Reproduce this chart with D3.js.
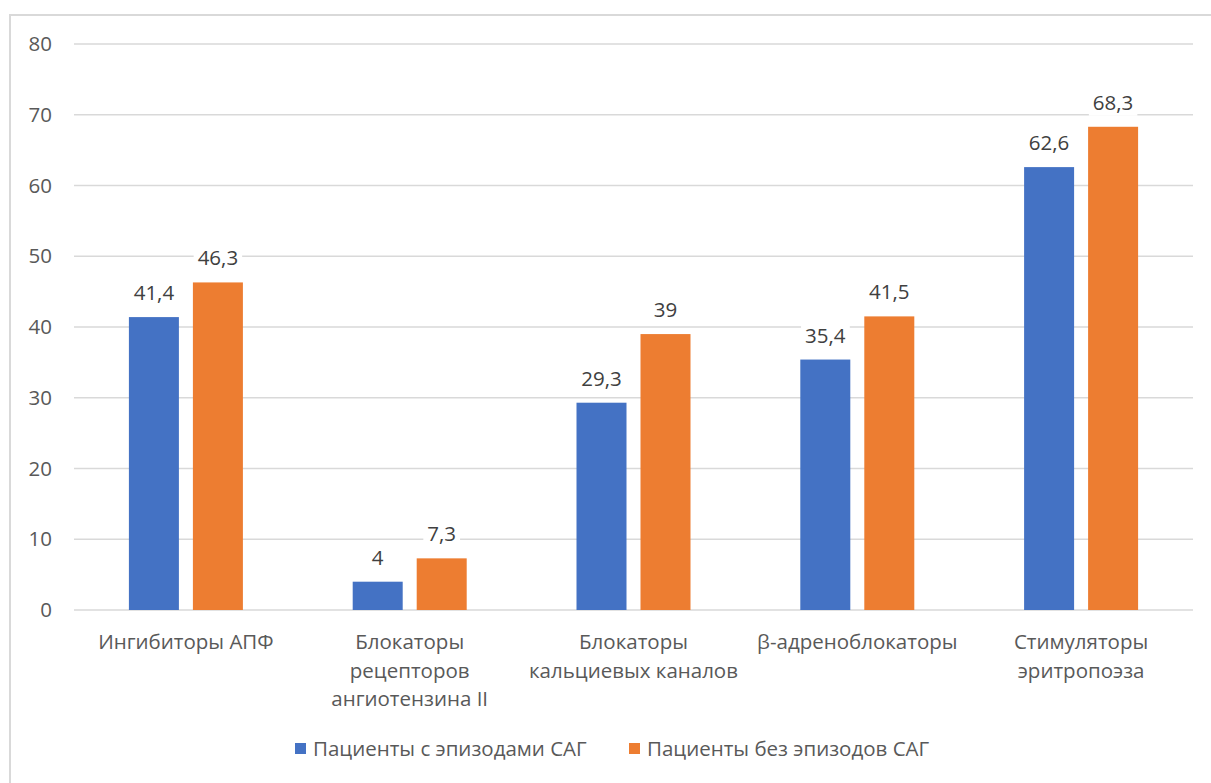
<!DOCTYPE html>
<html>
<head>
<meta charset="utf-8">
<script src="https://cdn.jsdelivr.net/npm/d3@7"></script>
<style>
  html, body { margin: 0; padding: 0; background: #fff; }
  svg { display: block; }
  text { font-family: "Open Sans", "Noto Sans", sans-serif; }
</style>
</head>
<body>
<svg id="chart" width="1211" height="783"></svg>
<script>
// Drug classes (category axis), each label split into display lines
const categories = [
  ["Ингибиторы АПФ"],
  ["Блокаторы", "рецепторов", "ангиотензина II"],
  ["Блокаторы", "кальциевых каналов"],
  ["β-адреноблокаторы"],
  ["Стимуляторы", "эритропоэза"]
];
const categoryKeys = ["АПФ", "БРА", "БКК", "ББ", "ЭПО"];

const seriesNames = ["Пациенты с эпизодами САГ", "Пациенты без эпизодов САГ"];
const withSAG = [41.4, 4, 29.3, 35.4, 62.6];
const withoutSAG = [46.3, 7.3, 39, 41.5, 68.3];
const valueLabels = [
  ["41,4", "4", "29,3", "35,4", "62,6"],
  ["46,3", "7,3", "39", "41,5", "68,3"]
];
const yTicks = [0, 10, 20, 30, 40, 50, 60, 70, 80];

const colors = ["#4472C4", "#ED7D31"];
const svg = d3.select("#chart");

// Outer chart frame
svg.append("rect")
  .attr("x", 10).attr("y", 15)
  .attr("width", 1260).attr("height", 800)
  .attr("fill", "#fff")
  .attr("stroke", "#D9D9D9").attr("stroke-width", 2);

const plot = { left: 74, right: 1193, top: 44, bottom: 610 };

const y = d3.scaleLinear().domain([0, 80]).range([plot.bottom, plot.top]);
const x0 = d3.scaleBand().domain(categoryKeys).range([plot.left, plot.right]);
const x1 = d3.scaleBand().domain([0, 1]).range([-57, 57]).paddingInner(0.21875);

// Horizontal gridlines
svg.append("g").selectAll("line")
  .data(yTicks)
  .join("line")
  .attr("x1", plot.left).attr("x2", plot.right)
  .attr("y1", d => y(d)).attr("y2", d => y(d))
  .attr("stroke", "#D9D9D9").attr("stroke-width", 1.5);

// Y axis tick labels
const yAxis = svg.append("g")
  .attr("transform", `translate(${plot.left - 22},0)`)
  .call(d3.axisLeft(y).tickValues(yTicks).tickSize(0).tickPadding(0));
yAxis.select(".domain").remove();
yAxis.selectAll("text")
  .attr("font-size", 20.5)
  .attr("fill", "#595959")
  .style("font-family", "'Open Sans', sans-serif");

// Bars
const values = [withSAG, withoutSAG];
const groups = svg.append("g").selectAll("g")
  .data(categoryKeys)
  .join("g")
  .attr("transform", d => `translate(${x0(d) + x0.bandwidth() / 2},0)`);

groups.selectAll("rect")
  .data((d, i) => values.map((s, k) => ({ k, v: s[i], label: valueLabels[k][i] })))
  .join("rect")
  .attr("x", d => x1(d.k))
  .attr("width", x1.bandwidth())
  .attr("y", d => y(d.v))
  .attr("height", d => y(0) - y(d.v))
  .attr("fill", d => colors[d.k]);

// Value labels with a white backing box
const lbl = groups.selectAll("g.lbl")
  .data((d, i) => values.map((s, k) => ({ k, v: s[i], label: valueLabels[k][i] })))
  .join("g")
  .attr("class", "lbl");
lbl.append("text")
  .attr("x", d => x1(d.k) + x1.bandwidth() / 2)
  .attr("y", d => y(d.v) - 17)
  .attr("text-anchor", "middle")
  .attr("font-size", 20.5)
  .attr("fill", "#404040")
  .text(d => d.label);
lbl.each(function () {
  const g = d3.select(this);
  const bb = g.select("text").node().getBBox();
  g.insert("rect", "text")
    .attr("x", bb.x - 4).attr("y", bb.y + 3)
    .attr("width", bb.width + 8).attr("height", bb.height - 3)
    .attr("fill", "#fff");
});

// Category labels
const xAxis = svg.append("g");
xAxis.selectAll("text")
  .data(categoryKeys)
  .join("text")
  .attr("x", d => x0(d) + x0.bandwidth() / 2)
  .attr("y", 649)
  .attr("text-anchor", "middle")
  .attr("font-size", 20.5)
  .attr("fill", "#595959")
  .each(function (d, i) {
    const t = d3.select(this);
    categories[i].forEach((line, j) => {
      t.append("tspan")
        .attr("x", x0(d) + x0.bandwidth() / 2)
        .attr("dy", j === 0 ? 0 : 28.5)
        .text(line);
    });
  });

// Legend
const legendX = [295, 629];
const legend = svg.append("g").selectAll("g")
  .data(seriesNames)
  .join("g")
  .attr("transform", (d, i) => `translate(${legendX[i]},743)`);
legend.append("rect")
  .attr("width", 11).attr("height", 11)
  .attr("fill", (d, i) => colors[i]);
legend.append("text")
  .attr("x", 18).attr("y", 13)
  .attr("font-size", 20.5)
  .attr("fill", "#595959")
  .text(d => d);
</script>
</body>
</html>
